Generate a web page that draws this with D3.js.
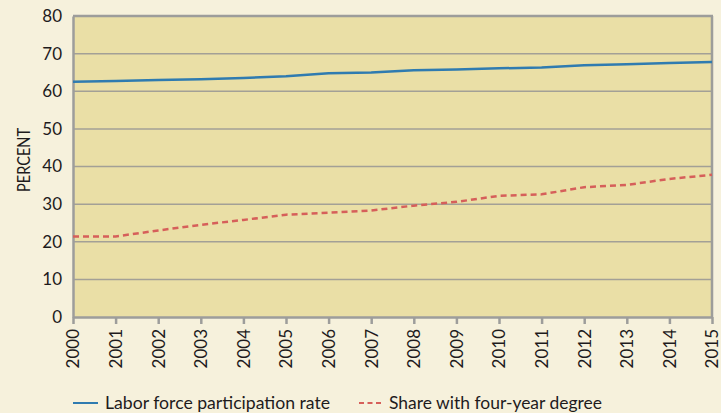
<!DOCTYPE html>
<html><head><meta charset="utf-8">
<script src="https://cdn.jsdelivr.net/npm/d3@7"></script>
<style>
html,body{margin:0;padding:0;background:#f6f1dc;}
svg{display:block;}
text{font-family:Lato, "Open Sans", sans-serif;fill:#1e1b1c;}
</style></head>
<body>
<script>
const years = [2000,2001,2002,2003,2004,2005,2006,2007,2008,2009,2010,2011,2012,2013,2014,2015];
const laborForce = [62.5,62.7,63.0,63.2,63.5,64.0,64.8,65.0,65.6,65.8,66.1,66.3,66.9,67.2,67.5,67.8];
const fourYearShare = [21.4,21.4,23.0,24.5,25.8,27.2,27.7,28.3,29.6,30.6,32.2,32.6,34.5,35.1,36.7,37.8];
const yTicks = [0,10,20,30,40,50,60,70,80];
const seriesNames = ["Labor force participation rate","Share with four-year degree"];

const W = 721, H = 413;
const m = {left:73, right:9, top:16, bottom:96};
const svg = d3.select("body").append("svg").attr("width",W).attr("height",H);
svg.append("rect").attr("width",W).attr("height",H).attr("fill","#f6f1dc");

const x = d3.scaleLinear().domain([2000,2015]).range([m.left, W-m.right]);
const y = d3.scaleLinear().domain([0,80]).range([H-m.bottom, m.top]);

// plot background
svg.append("rect").attr("x",x(2000)).attr("y",y(80)).attr("width",x(2015)-x(2000)).attr("height",y(0)-y(80)).attr("fill","#eadfa6");

// gridlines
svg.append("g").selectAll("line").data(yTicks.filter(d=>d>0 && d<80)).join("line")
  .attr("x1",x(2000)).attr("x2",x(2015)).attr("y1",d=>y(d)).attr("y2",d=>y(d))
  .attr("stroke","#a3a096").attr("stroke-width",1.5);

// top and right border
svg.append("line").attr("x1",x(2000)).attr("x2",x(2015)+1).attr("y1",y(80)).attr("y2",y(80)).attr("stroke","#9d9d9b").attr("stroke-width",2.5);
svg.append("line").attr("x1",x(2015)).attr("x2",x(2015)).attr("y1",y(80)).attr("y2",y(0)).attr("stroke","#9d9d9b").attr("stroke-width",2.5);

// y axis
const yAxis = svg.append("g").attr("transform",`translate(${x(2000)},0)`)
  .call(d3.axisLeft(y).tickValues(yTicks).tickSize(0).tickPadding(11));
yAxis.select(".domain").attr("stroke","#9d9d9b").attr("stroke-width",2.5);
yAxis.selectAll("text").attr("font-size",17).attr("font-family","Lato, sans-serif").attr("fill","#1e1b1c");

// x axis
const xAxis = svg.append("g").attr("transform",`translate(0,${y(0)})`)
  .call(d3.axisBottom(x).tickValues(years).tickFormat(d3.format("d")).tickSize(7).tickSizeOuter(0));
xAxis.select(".domain").attr("stroke","#9d9d9b").attr("stroke-width",2.5);
xAxis.selectAll(".tick line").attr("stroke","#9d9d9b").attr("stroke-width",2.5);
xAxis.selectAll("text").attr("font-size",17).attr("font-family","Lato, sans-serif").attr("fill","#1e1b1c")
  .attr("transform","rotate(-90)").attr("text-anchor","end").attr("x",-12).attr("y",0).attr("dy","0.35em");

// y label
svg.append("text").attr("transform",`translate(24,160) rotate(-90)`)
  .attr("text-anchor","middle").attr("dy","0.35em").attr("font-size",17)
  .attr("textLength",64).attr("lengthAdjust","spacingAndGlyphs").text("PERCENT");

// lines
const line = d3.line().x((d,i)=>x(years[i])).y(d=>y(d));
svg.append("path").datum(laborForce).attr("d",line).attr("fill","none").attr("stroke","#2f7bb0").attr("stroke-width",2.5);
svg.append("path").datum(fourYearShare).attr("d",line).attr("fill","none").attr("stroke","#d65f5a").attr("stroke-width",2.5).attr("stroke-dasharray","6,4");

// legend
const ly = 403;
svg.append("line").attr("x1",73).attr("x2",98).attr("y1",ly).attr("y2",ly).attr("stroke","#2f7bb0").attr("stroke-width",2);
svg.append("text").attr("x",105).attr("y",409).attr("font-size",18).attr("textLength",225).attr("lengthAdjust","spacingAndGlyphs").text(seriesNames[0]);
svg.append("line").attr("x1",359).attr("x2",384).attr("y1",ly).attr("y2",ly).attr("stroke","#d65f5a").attr("stroke-width",2).attr("stroke-dasharray","5,3.5");
svg.append("text").attr("x",389).attr("y",409).attr("font-size",18).attr("textLength",213).attr("lengthAdjust","spacingAndGlyphs").text(seriesNames[1]);
</script>
</body></html>
